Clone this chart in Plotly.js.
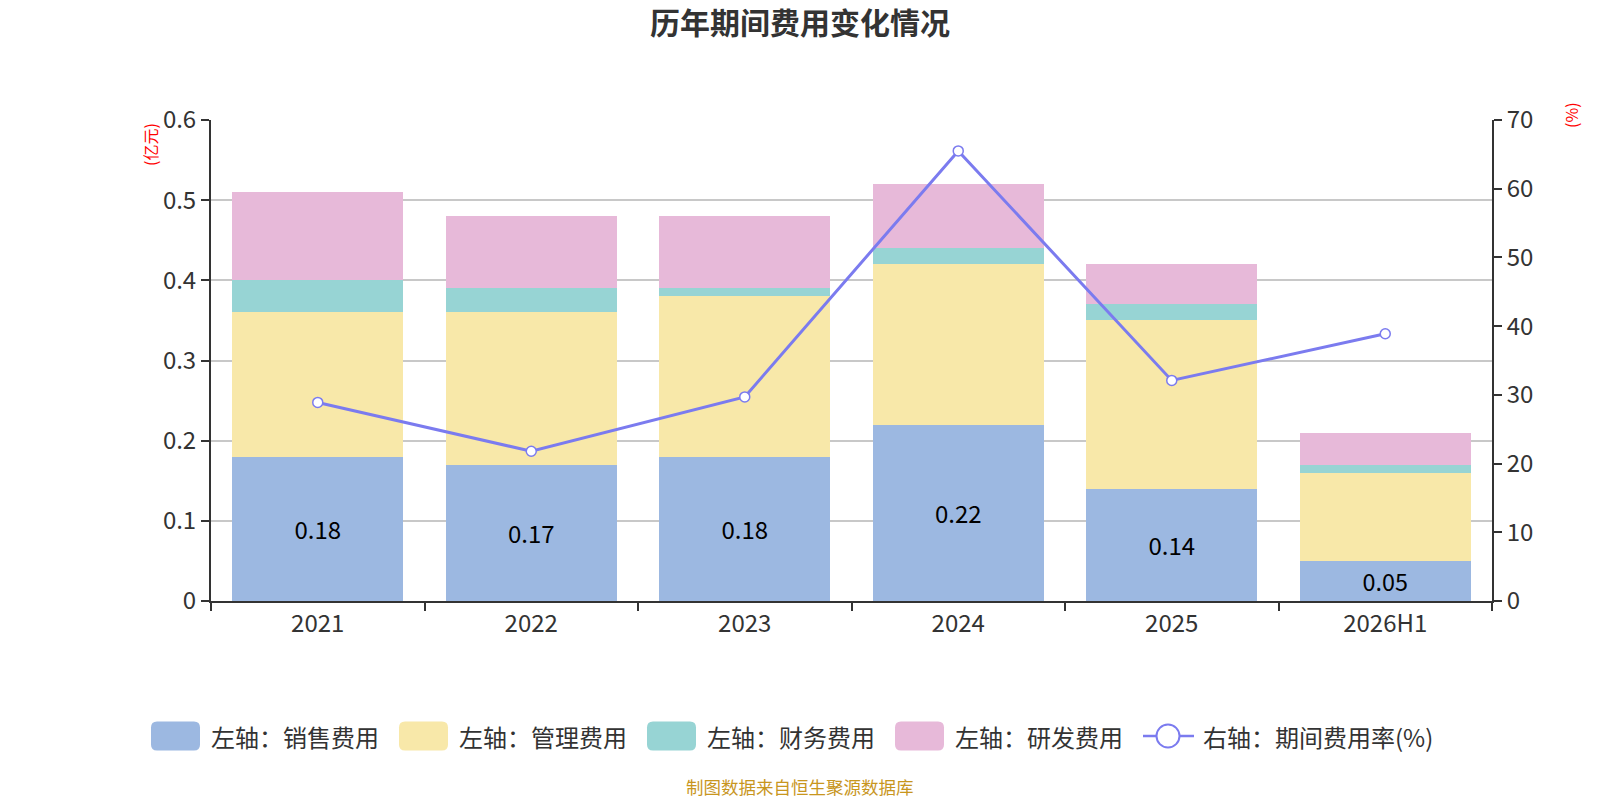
<!DOCTYPE html>
<html>
<head>
<meta charset="utf-8">
<script src="https://cdn.plot.ly/plotly-3.0.1.min.js"></script>
<style>
  body { margin: 0; background: #fff; }
  #chart { width: 1600px; height: 800px; }
</style>
</head>
<body>
<div id="chart"></div>
<script>
// categories and series (亿元 / %)
const years = ["2021", "2022", "2023", "2024", "2025", "2026H1"];
const sales = [0.18, 0.17, 0.18, 0.22, 0.14, 0.05];
const admin = [0.18, 0.19, 0.20, 0.20, 0.21, 0.11];
const finance = [0.04, 0.03, 0.01, 0.02, 0.02, 0.01];
const rnd = [0.11, 0.09, 0.09, 0.08, 0.05, 0.04];
const expenseRate = [28.9, 21.8, 29.7, 65.5, 32.1, 38.9];

const seriesNames = ['左轴：销售费用', '左轴：管理费用', '左轴：财务费用', '左轴：研发费用', '右轴：期间费用率(%)'];
const seriesColors = ['#9cb8e1', '#f8e8a9', '#97d4d4', '#e7b9d9', '#7b7bef'];

const FONT = '"Noto Sans CJK SC", "Noto Sans", sans-serif';
const W = 1600, H = 800;
const M = { l: 211, r: 108, t: 120, b: 199 };

// pixel position on the page -> paper coords (for legend / labels only)
const px = x => (x - M.l) / (W - M.l - M.r);
const py = y => (H - M.b - y) / (H - M.t - M.b);

function barTrace(i, vals, withLabels) {
  const t = {
    x: years, y: vals, name: seriesNames[i], type: 'bar',
    marker: { color: seriesColors[i] },
    hoverinfo: 'none', showlegend: false
  };
  if (withLabels) {
    t.text = vals.map(v => v.toFixed(2));
    t.textposition = 'inside';
    t.insidetextanchor = 'middle';
    t.textfont = { size: 24, color: '#000', family: FONT };
  } else {
    t.textposition = 'none';
  }
  return t;
}

const traces = [
  barTrace(0, sales, true),
  barTrace(1, admin, false),
  barTrace(2, finance, false),
  barTrace(3, rnd, false),
  {
    x: years, y: expenseRate, name: seriesNames[4],
    type: 'scatter', mode: 'lines+markers', yaxis: 'y2', showlegend: false,
    line: { color: seriesColors[4], width: 3 },
    marker: { size: 10, color: '#fff', line: { color: seriesColors[4], width: 1.5 } }
  }
];

// hand-made legend (rounded swatches like the original)
const shapes = [];
const annotations = [];
const legY = 736, pitch = 248, sw = 49, sh = 29, rr = 6;
function roundRect(w, h, r) {
  const x0 = -w / 2, x1 = w / 2, y0 = -h / 2, y1 = h / 2;
  return `M${x0 + r},${y0} L${x1 - r},${y0} Q${x1},${y0} ${x1},${y0 + r} L${x1},${y1 - r} ` +
    `Q${x1},${y1} ${x1 - r},${y1} L${x0 + r},${y1} Q${x0},${y1} ${x0},${y1 - r} L${x0},${y0 + r} Q${x0},${y0} ${x0 + r},${y0} Z`;
}
for (let i = 0; i < 4; i++) {
  const cx = 175.5 + i * pitch;
  shapes.push({
    type: 'path', xref: 'paper', yref: 'paper',
    xsizemode: 'pixel', ysizemode: 'pixel', xanchor: px(cx), yanchor: py(legY),
    path: roundRect(sw, sh, rr), fillcolor: seriesColors[i], line: { width: 0 }
  });
  annotations.push({
    text: seriesNames[i], xref: 'paper', yref: 'paper', x: px(cx + 33), y: py(legY),
    xanchor: 'left', yanchor: 'middle', showarrow: false,
    font: { size: 24, color: '#333', family: FONT }
  });
}
shapes.push({
  type: 'line', xref: 'paper', yref: 'paper', x0: px(1143), x1: px(1194), y0: py(legY), y1: py(legY),
  line: { color: seriesColors[4], width: 2.5 }
});
shapes.push({
  type: 'circle', xref: 'paper', yref: 'paper',
  xsizemode: 'pixel', ysizemode: 'pixel', xanchor: px(1168), yanchor: py(legY),
  x0: -11.5, x1: 11.5, y0: -11.5, y1: 11.5,
  fillcolor: '#fff', line: { color: seriesColors[4], width: 2 }
});
annotations.push({
  text: seriesNames[4], xref: 'paper', yref: 'paper', x: px(1201), y: py(legY),
  xanchor: 'left', yanchor: 'middle', showarrow: false,
  font: { size: 24, color: '#333', family: FONT }
});

annotations.push(
  {
    text: '(亿元)', xref: 'paper', yref: 'paper', x: px(150), y: py(145),
    xanchor: 'center', yanchor: 'middle', textangle: -90, showarrow: false,
    font: { size: 16, color: '#ff0000', family: FONT }
  },
  {
    text: '(%)', xref: 'paper', yref: 'paper', x: px(1571), y: py(115),
    xanchor: 'center', yanchor: 'middle', textangle: -90, showarrow: false,
    font: { size: 16, color: '#ff0000', family: FONT }
  },
  {
    text: '制图数据来自恒生聚源数据库', xref: 'paper', yref: 'paper', x: px(800), y: py(786),
    xanchor: 'center', yanchor: 'middle', showarrow: false,
    font: { size: 17.5, color: '#c8961e', family: FONT }
  }
);

const layout = {
  width: W, height: H,
  paper_bgcolor: '#fff', plot_bgcolor: '#fff',
  font: { family: FONT, color: '#333', size: 24 },
  margin: M,
  title: {
    text: '<b>历年期间费用变化情况</b>',
    x: 0.5, xanchor: 'center', y: 1 - 23 / H, yanchor: 'middle',
    font: { size: 30, color: '#333', family: FONT }
  },
  barmode: 'stack',
  bargap: 0.2,
  showlegend: false,
  xaxis: {
    type: 'category',
    showline: true, linecolor: '#333', linewidth: 2,
    ticks: 'outside', tickson: 'boundaries', ticklen: 8, tickcolor: '#333', tickwidth: 2,
    tickfont: { size: 24, color: '#333' },
    showgrid: false, zeroline: false
  },
  yaxis: {
    range: [0, 0.6], dtick: 0.1,
    showline: true, linecolor: '#333', linewidth: 2,
    ticks: 'outside', ticklen: 8, tickcolor: '#333', tickwidth: 2,
    tickfont: { size: 24, color: '#333' },
    showgrid: true, gridcolor: '#c8c8c8', gridwidth: 1.5, zeroline: false
  },
  yaxis2: {
    overlaying: 'y', side: 'right',
    range: [0, 70], dtick: 10,
    showline: true, linecolor: '#333', linewidth: 2,
    ticks: 'outside', ticklen: 8, tickcolor: '#333', tickwidth: 2,
    tickfont: { size: 24, color: '#333' },
    showgrid: false, zeroline: false
  },
  shapes: shapes,
  annotations: annotations
};

Plotly.newPlot('chart', traces, layout, { displayModeBar: false });
</script>
</body>
</html>
